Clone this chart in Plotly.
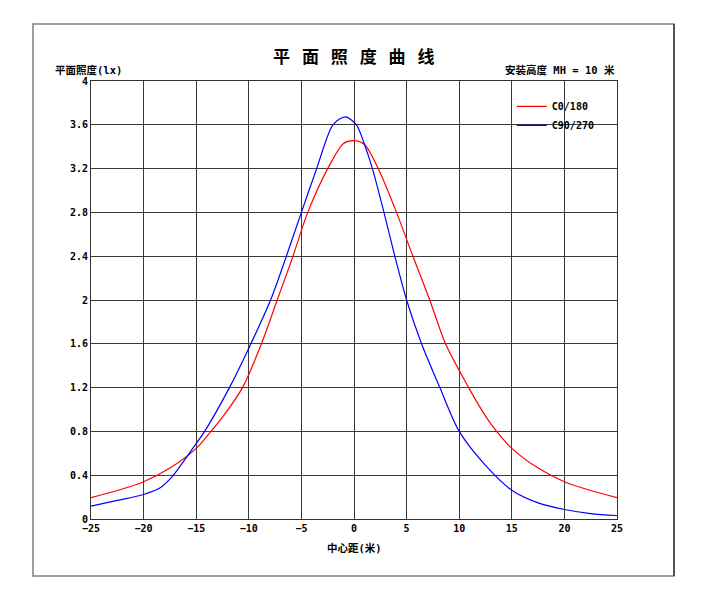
import plotly.graph_objects as go

# C0/180 平面照度
c0_x = [-25, -22.5, -20, -17.5, -15, -13.6, -12.5, -10.6, -8.8, -7.3, -5.8, -4.4,
        -2.5, -1, 0, 1, 2.3, 4.04, 5.6, 7.2, 8.7, 10.9, 12.5, 13.56, 15, 17.5, 20, 22.5, 25]
c0_y = [0.195, 0.26, 0.34, 0.465, 0.645, 0.80, 0.93, 1.2, 1.6, 2.0, 2.4, 2.8,
        3.2, 3.43, 3.455, 3.42, 3.2, 2.8, 2.4, 2.0, 1.6, 1.2, 0.94, 0.80, 0.645, 0.465, 0.34, 0.26, 0.195]

# C90/270
c90_x = [-25, -22.5, -20, -18.5, -17.3, -15.33, -14.2, -11.84, -10, -7.93, -6.43, -5, -3.55,
         -2.0, -0.82, 0.23, 1.0, 1.75, 2.85, 3.88, 5, 6.42, 8.16, 10, 12.5, 15, 17.5, 20, 22.5, 25]
c90_y = [0.117, 0.17, 0.224, 0.28, 0.385, 0.645, 0.8, 1.2, 1.56, 2.0, 2.4, 2.8, 3.2,
         3.6, 3.673, 3.6, 3.42, 3.2, 2.8, 2.4, 2.0, 1.6, 1.2, 0.8, 0.49, 0.263, 0.147, 0.087, 0.05, 0.032]

x_ticks = list(range(-25, 26, 5))
y_ticks = [0, 0.4, 0.8, 1.2, 1.6, 2, 2.4, 2.8, 3.2, 3.6, 4]
y_labels = ["0", "0.4", "0.8", "1.2", "1.6", "2", "2.4", "2.8", "3.2", "3.6", "4"]

MONO = "DejaVu Sans Mono"
CJK = "Noto Sans CJK SC"

fig = go.Figure()
fig.add_trace(go.Scatter(x=c0_x, y=c0_y, mode="lines", name="C0/180",
                         line=dict(color="#ff0000", width=1.2, shape="spline", smoothing=0.8)))
fig.add_trace(go.Scatter(x=c90_x, y=c90_y, mode="lines", name="C90/270",
                         line=dict(color="#0000ff", width=1.2, shape="spline", smoothing=0.8)))

axis_common = dict(showgrid=True, gridcolor="#3a3a3a", gridwidth=1, zeroline=False,
                   showline=True, linecolor="#333333", linewidth=1, mirror=True, ticks="",
                   tickfont=dict(family=MONO, size=10, color="black", weight="bold"))
fig.update_xaxes(range=[-25, 25], tickvals=x_ticks, **axis_common)
fig.update_yaxes(range=[0, 4], tickvals=y_ticks, ticktext=y_labels, **axis_common)

sp = "\u2002\u2009"
title_txt = sp.join(list("平面照度曲线"))

fig.update_layout(
    width=689, height=587,
    margin=dict(l=83, r=80, t=73, b=76),
    plot_bgcolor="white", paper_bgcolor="white",
    showlegend=True,
    legend=dict(x=0.8, y=0.975, xanchor="left", yanchor="top", bgcolor="rgba(0,0,0,0)",
                font=dict(family=MONO, size=10, color="black", weight="bold"),
                itemwidth=30, tracegroupgap=0),
    shapes=[
        dict(type="rect", xref="paper", yref="paper", x0=-0.1103, x1=1.1084, y0=-0.130, y1=1.130,
             line=dict(color="#808080", width=1.5), layer="below"),
        dict(type="line", xref="paper", yref="paper", x0=1.1084, x1=1.1084, y0=-0.130, y1=1.130,
             line=dict(color="#222222", width=1.2)),
    ],
    annotations=[
        dict(text=title_txt, xref="paper", yref="paper", x=0.5, y=1.059,
             showarrow=False, xanchor="center", yanchor="middle",
             font=dict(family=CJK, size=17, color="black", weight="bold")),
        dict(text="平面照度<span style='font-family:DejaVu Sans Mono'>(lx)</span>",
             xref="paper", yref="paper", x=-0.072, y=1.027,
             showarrow=False, xanchor="left", yanchor="middle",
             font=dict(family=CJK, size=10.5, color="black", weight="bold")),
        dict(text="安装高度<span style='font-family:DejaVu Sans Mono'> MH = 10 </span>米",
             xref="paper", yref="paper", x=1.0, y=1.027,
             showarrow=False, xanchor="right", yanchor="middle",
             font=dict(family=CJK, size=10.5, color="black", weight="bold")),
        dict(text="中心距<span style='font-family:DejaVu Sans Mono'>(</span>米<span style='font-family:DejaVu Sans Mono'>)</span>",
             xref="paper", yref="paper", x=0.5, y=-0.064,
             showarrow=False, xanchor="center", yanchor="middle",
             font=dict(family=CJK, size=10.5, color="black", weight="bold")),
    ],
)

fig.write_html("out.html")
